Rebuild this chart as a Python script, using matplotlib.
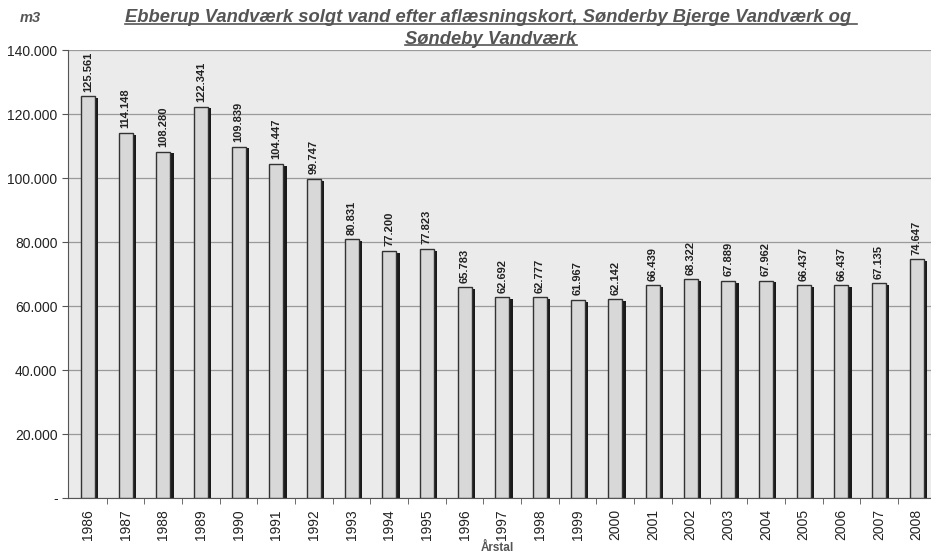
import matplotlib.pyplot as plt
import numpy as np
from matplotlib.lines import Line2D

plt.rcParams['font.family'] = ['Liberation Sans', 'DejaVu Sans']

years = [str(y) for y in range(1986, 2009)]
values = [125561, 114148, 108280, 122341, 109839, 104447, 99747, 80831, 77200, 77823,
          65783, 62692, 62777, 61967, 62142, 66439, 68322, 67889, 67962, 66437,
          66437, 67135, 74647]
yticks = [0, 20000, 40000, 60000, 80000, 100000, 120000, 140000]
ytick_labels = ["-", "20.000", "40.000", "60.000", "80.000", "100.000", "120.000", "140.000"]
labels = [f"{v:,}".replace(",", ".") for v in values]

W, H = 931, 556
fig = plt.figure(figsize=(W / 100, H / 100), dpi=100)
fig.patch.set_facecolor("white")
ax = fig.add_axes([68 / W, (H - 498) / H, (W - 68) / W, (498 - 50) / H])
ax.set_facecolor("#ebebeb")

x = np.arange(len(values))
bw = 0.37
# shadow bars
ax.bar(x + 0.09, np.array(values) - 600, width=bw, color="#1a1a1a", zorder=2)
ax.bar(x, values, width=bw, color="#d8d8d8", edgecolor="#333333", linewidth=1.0, zorder=3)

for xi, v, lab in zip(x, values, labels):
    ax.text(xi, v + 1400, lab, rotation=90, ha="center", va="bottom",
            fontsize=8, fontweight="bold", color="#222222", zorder=4)

ax.set_ylim(0, 140000)
ax.set_xlim(-0.53, len(values) - 1 + 0.38)
ax.set_yticks(yticks)
ax.set_yticklabels(ytick_labels, fontsize=10, color="#222222")
ax.yaxis.grid(True, color="#9a9a9a", linewidth=0.9)
ax.set_axisbelow(True)

ax.set_xticks(x)
ax.set_xticklabels(years, rotation=90, fontsize=10, color="#222222")
ax.tick_params(axis="x", length=0, pad=8)
ax.set_xticks(x[:-1] + 0.5, minor=True)
ax.tick_params(axis="x", which="minor", length=4, color="#555555")
ax.tick_params(axis="y", length=4, color="#555555")

for s in ["top", "right"]:
    ax.spines[s].set_visible(False)
ax.spines["left"].set_color("#555555")
ax.spines["bottom"].set_color("#555555")

fig.text(30 / W, 1 - 18 / H, "m3", fontsize=10.5, style="italic", fontweight="bold",
         color="#555555", ha="center", va="center")
t1 = fig.text(491 / W, 1 - 18 / H, "Ebberup Vandværk solgt vand efter aflæsningskort, Sønderby Bjerge Vandværk og ",
              fontsize=13.2, style="italic", fontweight="bold", color="#555555", ha="center", va="center")
t2 = fig.text(491 / W, 1 - 39 / H, "Søndeby Vandværk",
              fontsize=13.2, style="italic", fontweight="bold", color="#555555", ha="center", va="center")
fig.text(497 / W, 1 - 548 / H, "Årstal", fontsize=8.5, fontweight="bold",
         color="#555555", ha="center", va="center")

fig.canvas.draw()
r = fig.canvas.get_renderer()
for t in (t1, t2):
    bb = t.get_window_extent(r).transformed(fig.transFigure.inverted())
    fig.add_artist(Line2D([bb.x0, bb.x1], [bb.y0 + 0.004, bb.y0 + 0.004],
                          color="#555555", linewidth=1.2, transform=fig.transFigure))

fig.savefig("out.png", dpi=100)
